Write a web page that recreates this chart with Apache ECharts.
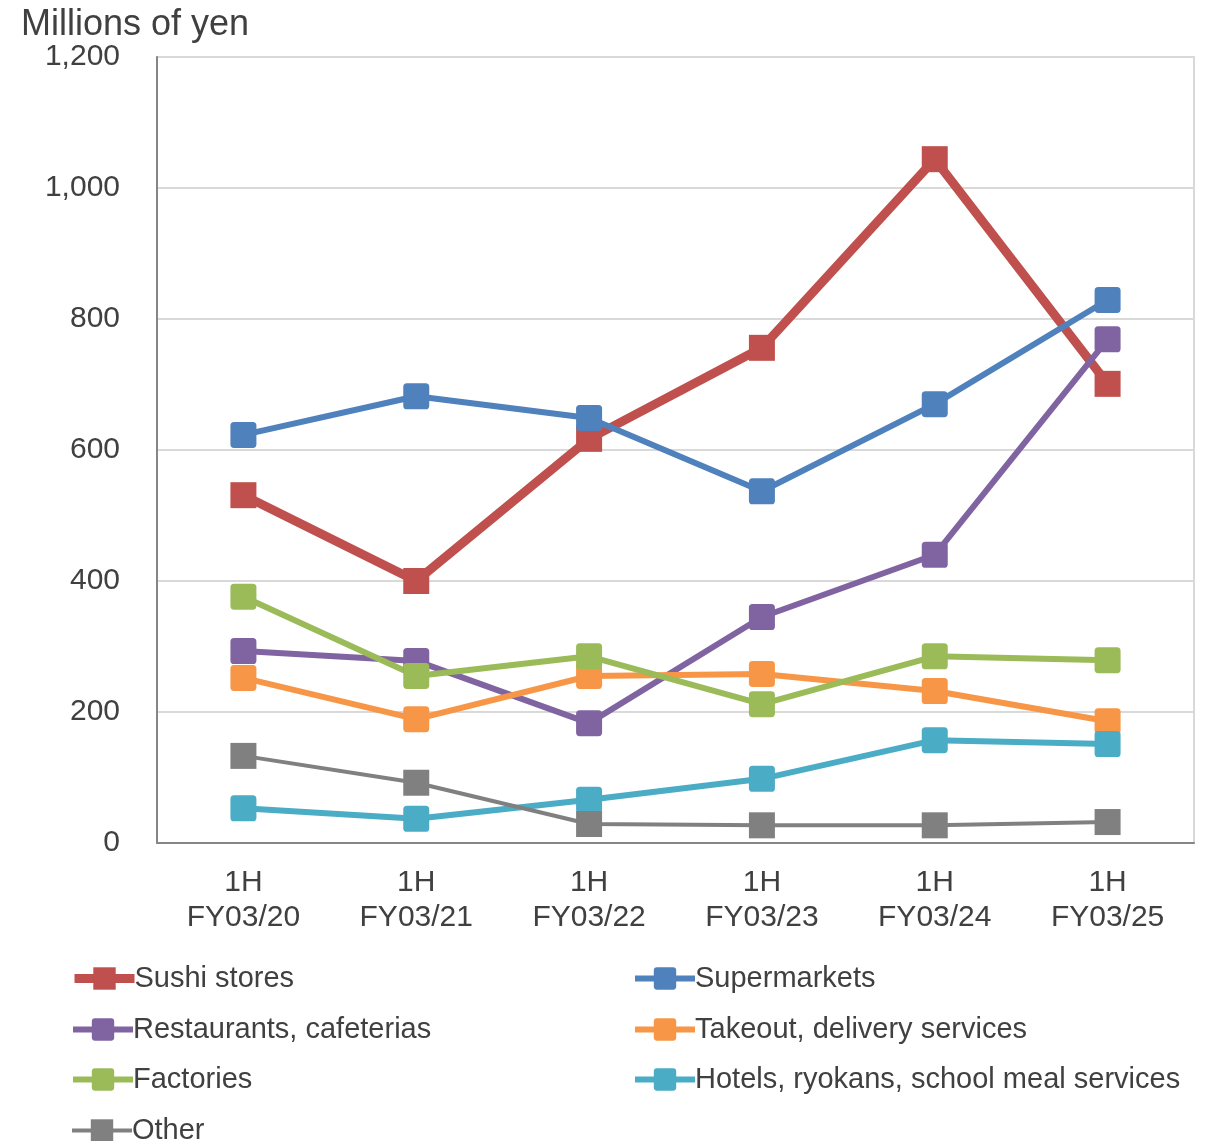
<!DOCTYPE html>
<html>
<head>
<meta charset="utf-8">
<script src="https://cdn.jsdelivr.net/npm/echarts@6/dist/echarts.min.js"></script>
<style>
  html, body { margin: 0; padding: 0; background: #fff; }
  #chart { width: 1208px; height: 1141px; }
</style>
</head>
<body>
<div id="chart"></div>
<script>
// Sales by customer category, first-half results (millions of yen)
const categories = ['1H\nFY03/20', '1H\nFY03/21', '1H\nFY03/22', '1H\nFY03/23', '1H\nFY03/24', '1H\nFY03/25'];
const sushiStores   = [531, 400, 617, 756, 1044, 701];
const supermarkets  = [623, 682, 649, 537, 670, 829];
const restaurants   = [293, 278, 183, 345, 440, 769];
const takeout       = [252, 189, 255, 258, 232, 186];
const factories     = [376, 255, 285, 212, 285, 279];
const hotels        = [53, 37, 66, 98, 157, 151];
const other         = [133, 92, 29, 27, 27, 32];
const yTicks = { min: 0, max: 1200, interval: 200 };

const FONT = '"Liberation Sans", Arial, sans-serif';
const TEXT = '#404040';

// Square marker with slightly softened corners
const SOFT_SQUARE = 'path://M14,0 H86 Q100,0 100,14 V86 Q100,100 86,100 H14 Q0,100 0,86 V14 Q0,0 14,0 Z';

function mk(name, data, color, width, symbol) {
  return {
    name, type: 'line', data,
    symbol, symbolSize: 26,
    showAllSymbol: true,
    lineStyle: { color, width },
    itemStyle: { color, borderWidth: 0 },
    emphasis: { disabled: true },
    animation: false
  };
}

const series = [
  mk('Sushi stores', sushiStores, '#C0504D', 9, 'rect'),
  mk('Supermarkets', supermarkets, '#4F81BD', 6, SOFT_SQUARE),
  mk('Restaurants, cafeterias', restaurants, '#8064A2', 6, SOFT_SQUARE),
  mk('Takeout, delivery services', takeout, '#F79646', 6, SOFT_SQUARE),
  mk('Factories', factories, '#9BBB59', 6, SOFT_SQUARE),
  mk('Hotels, ryokans, school meal services', hotels, '#4BACC6', 6, SOFT_SQUARE),
  mk('Other', other, '#808080', 4, 'rect')
];

// Two-column legend: one legend box per entry
const legendSlots = [
  ['Sushi stores', 70, 978],
  ['Supermarkets', 632, 978],
  ['Restaurants, cafeterias', 70, 1029],
  ['Takeout, delivery services', 632, 1029],
  ['Factories', 70, 1079],
  ['Hotels, ryokans, school meal services', 632, 1079],
  ['Other', 70, 1130]
];
const LEG_H = 28;
const legends = legendSlots.map(([name, x, cy]) => ({
  data: [name],
  left: x,
  top: cy - LEG_H / 2,
  padding: 0,
  itemWidth: 60,
  itemHeight: LEG_H,
  lineStyle: { width: 'inherit' },
  selectedMode: false,
  textStyle: {
    fontFamily: FONT, fontSize: 29, color: TEXT,
    lineHeight: LEG_H, padding: [0, 0, 0, -5]
  }
}));

const chart = echarts.init(document.getElementById('chart'), null, { renderer: 'canvas' });
chart.setOption({
  backgroundColor: '#fff',
  animation: false,
  grid: {
    left: 157, top: 57, right: 14, bottom: 298,
    show: true, borderColor: '#d9d9d9', borderWidth: 2
  },
  title: {
    text: 'Millions of yen',
    left: 16, top: 2,
    textStyle: { fontFamily: FONT, fontSize: 36, fontWeight: 'normal', color: TEXT }
  },
  legend: legends,
  xAxis: {
    type: 'category',
    data: categories,
    boundaryGap: true,
    axisLine: { lineStyle: { color: '#868686', width: 2 } },
    axisTick: { show: false },
    axisLabel: {
      fontFamily: FONT, fontSize: 30, color: TEXT,
      margin: 22, lineHeight: 35, align: 'center'
    }
  },
  yAxis: {
    type: 'value',
    min: yTicks.min, max: yTicks.max, interval: yTicks.interval,
    axisLine: { show: true, lineStyle: { color: '#868686', width: 2 } },
    axisTick: { show: false },
    splitLine: { lineStyle: { color: '#d9d9d9', width: 2 } },
    axisLabel: {
      fontFamily: FONT, fontSize: 30, color: TEXT, margin: 37,
      formatter: v => v.toLocaleString('en-US')
    }
  },
  series
});
</script>
</body>
</html>
